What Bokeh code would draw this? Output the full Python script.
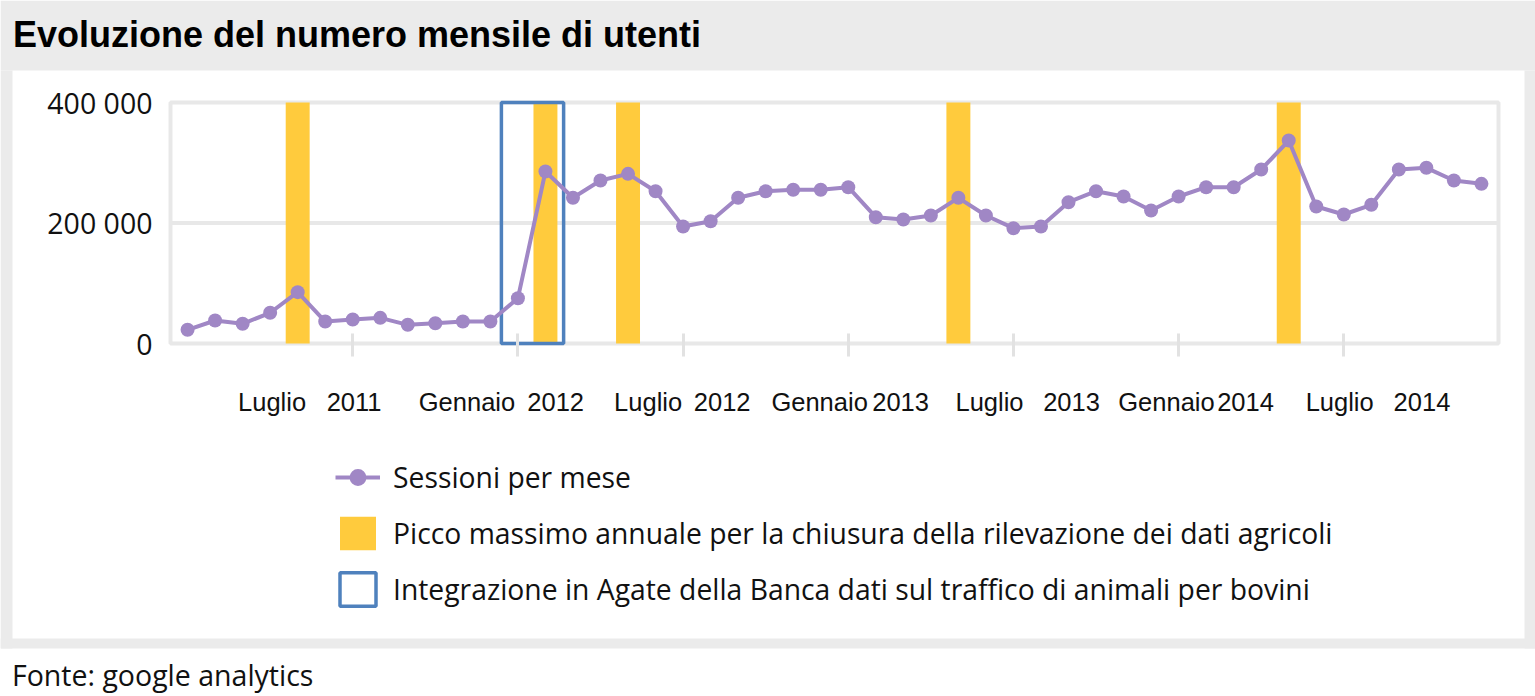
from bokeh.plotting import figure
from bokeh.models import Range1d, FixedTicker, BoxAnnotation, Label, Legend, LegendItem
from bokeh.embed import file_html
from bokeh.resources import INLINE

# ---------------- data ----------------
MONTHS = [f"{y}-{m:02d}" for y in (2011, 2012, 2013, 2014) for m in range(1, 13)]

SESSIONS = [22700, 38200, 32700, 51000, 85200, 36500, 39800, 42600, 31000, 33700, 36500, 36500,
            75200, 285500, 241800, 270500, 281600, 252800, 194200, 203000, 241800, 252800, 255100, 255100,
            259400, 209600, 205800, 212400, 241800, 212400, 191400, 194200, 234500, 252800, 244000, 220700,
            244000, 259400, 259400, 288800, 336900, 227400, 214100, 230200, 288800, 291600, 270500, 265000]

PEAK_MONTHS = ["2011-05", "2012-02", "2012-05", "2013-05", "2014-05"]
INTEGRATION_MONTHS = ["2012-01", "2012-02"]

Y_TICKS = [0, 200000, 400000]
Y_TICK_LABELS = ["0", "200 000", "400 000"]
Y_GRID = [200000]

X_TICK_MONTHS = ["2011-07", "2012-01", "2012-07", "2013-01", "2013-07", "2014-01", "2014-07"]
X_LABEL_TEXT = ["Luglio", "2011", "Gennaio", "2012", "Luglio", "2012", "Gennaio", "2013",
                "Luglio", "2013", "Gennaio", "2014", "Luglio", "2014"]

TITLE = "Evoluzione del numero mensile di utenti"
SOURCE = "Fonte: google analytics"
SERIES_NAME = "Sessioni per mese"
PEAK_NAME = "Picco massimo annuale per la chiusura della rilevazione dei dati agricoli"
BOX_NAME = "Integrazione in Agate della Banca dati sul traffico di animali per bovini"

# ---------------- layout / style constants ----------------
W, H = 1535, 696
PLOT_L, PLOT_R, PLOT_T, PLOT_B = 170, 1498, 102, 343   # plot area on the page (px)
X_LABEL_POS = [3.07, 6.05, 10.15, 13.37, 16.73, 19.42, 22.96, 25.9, 29.13, 32.11, 35.56, 38.43, 41.85, 44.84]
BOX_PAD_L, BOX_PAD_R = 0.6, 0.66
BAR_W = 0.87
Y_MAX = 400000

PURPLE = "#A087C5"
YELLOW = "#FFCB3D"
BLUE = "#4F81BD"
GRAY = "#ebebeb"
LINE_GRAY = "#e8e8e8"
TXT = "#111111"

x = list(range(len(MONTHS)))
peak_x = [MONTHS.index(m) for m in PEAK_MONTHS]
box_left = MONTHS.index(INTEGRATION_MONTHS[0]) - BOX_PAD_L
box_right = MONTHS.index(INTEGRATION_MONTHS[-1]) + BOX_PAD_R
tick_x = [MONTHS.index(m) for m in X_TICK_MONTHS]

X0, X1 = -0.62, len(MONTHS) - 1 + 0.62
kx = (PLOT_R - PLOT_L) / (X1 - X0)
ky = (PLOT_B - PLOT_T) / Y_MAX


def dx(px):
    return X0 + (px - PLOT_L) / kx


def dy(py):
    return (PLOT_B - py) / ky


p = figure(width=W, height=H, output_backend="svg", toolbar_location=None,
           x_range=Range1d(dx(0), dx(W)), y_range=Range1d(dy(H), dy(0)),
           min_border=0, border_fill_color="white", background_fill_color="white",
           outline_line_color=None)
p.grid.visible = False

# plot-area frame and horizontal gridline
p.quad(left=[X0], right=[X1], bottom=[0], top=[Y_MAX], fill_color=None,
       line_color=LINE_GRAY, line_width=4)
p.segment(x0=[X0] * len(Y_GRID), x1=[X1] * len(Y_GRID), y0=Y_GRID, y1=Y_GRID,
          line_color=LINE_GRAY, line_width=4)

bars = p.vbar(x=peak_x, width=BAR_W, bottom=0, top=Y_MAX, fill_color=YELLOW, line_color=None)
box = p.quad(left=[box_left], right=[box_right], bottom=[0], top=[Y_MAX],
             fill_color=None, line_color=BLUE, line_width=3.5)
line = p.line(x, SESSIONS, line_color=PURPLE, line_width=4)
dots = p.scatter(x, SESSIONS, size=14, fill_color=PURPLE, line_color=None)

xa = p.xaxis[0]
xa.fixed_location = 0
xa.ticker = FixedTicker(ticks=X_LABEL_POS, minor_ticks=tick_x)
xa.major_label_overrides = {pos: t for pos, t in zip(X_LABEL_POS, X_LABEL_TEXT)}
xa.axis_line_color = None
xa.major_tick_line_color = None
xa.major_tick_in = 0
xa.major_tick_out = 0
xa.minor_tick_line_color = "#e2e2e2"
xa.minor_tick_line_width = 3
xa.minor_tick_in = 10
xa.minor_tick_out = 13
xa.major_label_standoff = 31
xa.major_label_text_font = "Liberation Sans"
xa.major_label_text_font_size = "25.5px"
xa.major_label_text_color = TXT

ya = p.yaxis[0]
ya.fixed_location = X0
ya.ticker = FixedTicker(ticks=Y_TICKS)
ya.major_label_overrides = {v: t for v, t in zip(Y_TICKS, Y_TICK_LABELS)}
ya.axis_line_color = None
ya.major_tick_line_color = None
ya.minor_tick_line_color = None
ya.major_tick_in = 0
ya.major_tick_out = 0
ya.major_label_standoff = 18
ya.major_label_text_font = "Open Sans"
ya.major_label_text_font_size = "28.5px"
ya.major_label_text_color = TXT

# gray page bands around the white chart panel
for l, r, t, b in [(0, W, 0, 70), (0, 12, 70, 648), (1524, W, 70, 648), (0, W, 638, 648)]:
    p.add_layout(BoxAnnotation(left=dx(l), right=dx(r), top=dy(t), bottom=dy(b),
                               fill_color=GRAY, fill_alpha=1, line_color=None))

legend = Legend(items=[LegendItem(label=SERIES_NAME, renderers=[line, dots]),
                       LegendItem(label=PEAK_NAME, renderers=[bars]),
                       LegendItem(label=BOX_NAME, renderers=[box])],
                location=(335, H - 610), orientation="vertical",
                glyph_width=45, glyph_height=42, label_standoff=13, spacing=14,
                padding=0, margin=0, border_line_color=None, background_fill_alpha=0,
                label_text_font="Open Sans", label_text_font_size="28.3px",
                label_text_color=TXT)
p.add_layout(legend)

p.add_layout(Label(x=dx(12.5), y=dy(34), text=TITLE,
                   text_font="Liberation Sans", text_font_style="bold",
                   text_font_size="36px", text_color="#000000", text_baseline="alphabetic"))
p.add_layout(Label(x=dx(11.5), y=dy(674), text=SOURCE,
                   text_font="Open Sans", text_font_size="28.5px", text_color=TXT,
                   text_baseline="alphabetic"))

open("out.html", "w").write(file_html(p, INLINE))
